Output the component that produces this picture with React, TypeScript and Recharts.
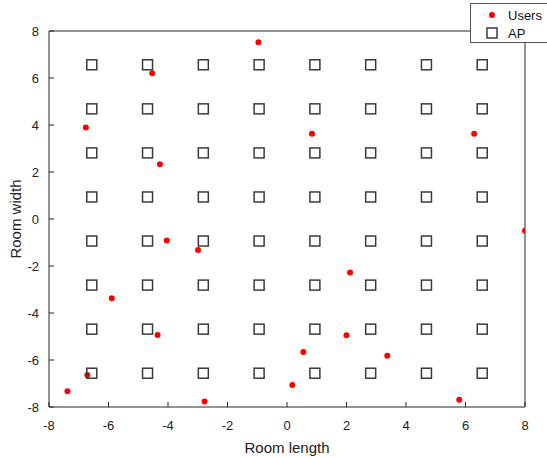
import { ScatterChart, Scatter, XAxis, YAxis, Legend, Label } from "recharts";

// user positions
const userX = [-0.96, -4.53, -6.76, -4.27, 0.84, 6.29, -4.04, -2.99, -5.89, -4.35, -6.71, -7.38, -2.77, 8.0, 2.12, 2.0, 0.55, 3.37, 0.18, 5.79];
const userY = [7.52, 6.2, 3.89, 2.33, 3.63, 3.63, -0.92, -1.32, -3.37, -4.94, -6.64, -7.33, -7.77, -0.5, -2.28, -4.95, -5.66, -5.82, -7.06, -7.69];

// access points sit on a regular 8x8 grid
const apCoords = [-6.5625, -4.6875, -2.8125, -0.9375, 0.9375, 2.8125, 4.6875, 6.5625];

const ticks = [-8, -6, -4, -2, 0, 2, 4, 6, 8];

const seriesOrder = ["Users", "AP"];

const users = userX.map((x, i) => ({ x, y: userY[i] }));
const aps = apCoords.flatMap((y) => apCoords.map((x) => ({ x, y })));

const AXIS = "#262626";
const USER_COLOR = "#ff0000";
const AP_COLOR = "#3a3a3a";

const tickStyle = { fontSize: 13, fill: "#222" };

const renderLegend = (props: any) => {
  const items = [...(props.payload || [])].sort(
    (a: any, b: any) => seriesOrder.indexOf(a.value) - seriesOrder.indexOf(b.value)
  );
  return (
    <div
      style={{
        border: "1px solid #555",
        background: "#fff",
        width: 90,
        padding: "2px 0 0 0",
        fontSize: 13,
        color: "#111",
      }}
    >
      {items.map((entry: any, i: number) => (
        <div key={`leg-${i}`} style={{ display: "flex", alignItems: "center", height: 18 }}>
          <svg width={37} height={18}>
            {entry.value === "Users" ? (
              <circle cx={21} cy={9} r={3} fill={USER_COLOR} />
            ) : (
              <rect x={16} y={4} width={10} height={10} fill="none" stroke={AP_COLOR} strokeWidth={1.5} />
            )}
          </svg>
          <span>{entry.value}</span>
        </div>
      ))}
    </div>
  );
};

export default function App() {
  return (
    <div
      style={{
        position: "absolute",
        left: 0,
        top: 0,
        width: 547,
        height: 459,
        overflow: "hidden",
        background: "#fff",
        fontFamily: "'Liberation Sans', Arial, sans-serif",
      }}
    >
      <ScatterChart width={547} height={459} margin={{ top: 30, right: 21, bottom: 0, left: 0 }}>
        <XAxis
          type="number"
          dataKey="x"
          domain={[-8, 8]}
          ticks={ticks}
          allowDataOverflow
          height={52}
          tickSize={-5}
          tickMargin={19}
          tick={tickStyle}
          axisLine={{ stroke: AXIS }}
          tickLine={{ stroke: AXIS }}
        >
          <Label value="Room length" position="insideBottom" offset={6} style={{ fontSize: 15, fill: "#222" }} />
        </XAxis>
        <XAxis
          xAxisId="top"
          orientation="top"
          type="number"
          domain={[-8, 8]}
          ticks={ticks}
          allowDataOverflow
          height={1}
          tickSize={-5}
          tick={false}
          axisLine={{ stroke: AXIS }}
          tickLine={{ stroke: AXIS }}
        />
        <YAxis
          type="number"
          dataKey="y"
          domain={[-8, 8]}
          ticks={ticks}
          allowDataOverflow
          width={49}
          tickSize={-5}
          tickMargin={15}
          tick={tickStyle}
          axisLine={{ stroke: AXIS }}
          tickLine={{ stroke: AXIS }}
        >
          <Label value="Room width" angle={-90} position="center" dx={-9} style={{ fontSize: 15, fill: "#222", textAnchor: "middle" }} />
        </YAxis>
        <YAxis
          yAxisId="right"
          orientation="right"
          type="number"
          domain={[-8, 8]}
          ticks={ticks}
          allowDataOverflow
          width={1}
          tickSize={-5}
          tick={false}
          axisLine={{ stroke: AXIS }}
          tickLine={{ stroke: AXIS }}
        />
        <Legend
          layout="horizontal"
          verticalAlign="middle"
          align="center"
          content={renderLegend}
          wrapperStyle={{ position: "absolute", left: 470, top: 3, width: 90 }}
        />
        <Scatter
          name="Users"
          data={users}
          fill={USER_COLOR}
          legendType="circle"
          isAnimationActive={false}
          shape={(p: any) => <circle cx={p.cx} cy={p.cy} r={3} fill={USER_COLOR} />}
        />
        <Scatter
          name="AP"
          data={aps}
          fill={AP_COLOR}
          legendType="square"
          isAnimationActive={false}
          shape={(p: any) => (
            <rect x={p.cx - 5} y={p.cy - 5} width={10} height={10} fill="none" stroke={AP_COLOR} strokeWidth={1.5} />
          )}
        />
      </ScatterChart>
    </div>
  );
}
